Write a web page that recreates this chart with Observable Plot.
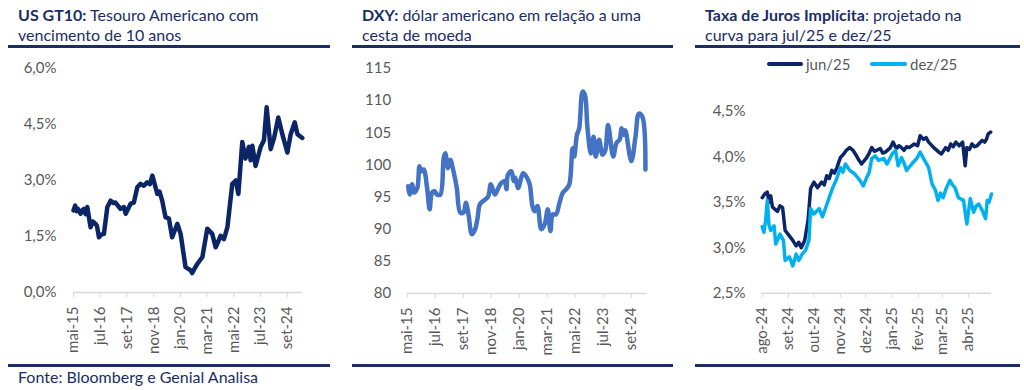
<!DOCTYPE html>
<html><head><meta charset="utf-8">
<script src="https://cdn.jsdelivr.net/npm/d3@7"></script>
<script src="https://cdn.jsdelivr.net/npm/@observablehq/plot@0.6"></script>
<style>
body{margin:0;width:1024px;height:390px;background:#fff;position:relative;overflow:hidden;font-family:Lato,"Open Sans",sans-serif;}
.title{position:absolute;color:#1b2d63;font-size:16px;line-height:20px;white-space:nowrap;}
.rule{position:absolute;height:3px;background:#1b2d63;}
.panel{position:absolute;top:50px;}
.leg{position:absolute;top:55px;font-size:15px;color:#595959;line-height:18px;}
.sw{position:absolute;top:62px;height:4px;border-radius:2px;}
.foot{position:absolute;left:18px;top:367px;font-size:16px;color:#1b2d63;}
</style></head><body>
<div class="title" style="left:18px;top:5px"><b>US GT10:</b> Tesouro Americano com<br>vencimento de 10 anos</div>
<div class="title" style="left:362px;top:5px"><b>DXY:</b> dólar americano em relação a uma<br>cesta de moeda</div>
<div class="title" style="left:705px;top:5px"><b>Taxa de Juros Implícita</b>: projetado na<br>curva para jul/25 e dez/25</div>
<div class="rule" style="left:8px;width:322px;top:45px"></div>
<div class="rule" style="left:352px;width:321px;top:45px"></div>
<div class="rule" style="left:695px;width:325px;top:45px"></div>
<div class="rule" style="left:8px;width:322px;top:364px"></div>
<div class="rule" style="left:352px;width:321px;top:364px"></div>
<div class="rule" style="left:695px;width:325px;top:364px"></div>
<div class="foot">Fonte: Bloomberg e Genial Analisa</div>
<div class="sw" style="left:767px;width:36px;background:#0b2566"></div>
<div class="leg" style="left:806px">jun/25</div>
<div class="sw" style="left:870px;width:37px;background:#00b0f0"></div>
<div class="leg" style="left:910px">dez/25</div>
<div id="p1" class="panel" style="left:0px"></div>
<div id="p2" class="panel" style="left:340px"></div>
<div id="p3" class="panel" style="left:680px"></div>
<script>
// ---- Data ----
const gt10Dates = ["2015-05-01","2015-05-28","2015-06-20","2015-07-07","2015-08-22","2015-09-15","2015-10-13","2015-11-10","2015-12-07","2016-01-28","2016-03-07","2016-04-16","2016-05-10","2016-06-10","2016-07-16","2016-08-28","2016-10-22","2016-12-13","2017-01-20","2017-03-01","2017-05-19","2017-07-13","2017-08-10","2017-10-28","2017-12-19","2018-02-12","2018-04-04","2018-05-28","2018-07-19","2018-09-01","2018-10-10","2018-12-28","2019-02-01","2019-03-16","2019-05-07","2019-07-01","2019-08-22","2019-11-12","2020-01-04","2020-03-22","2020-06-13","2020-07-07","2020-08-16","2020-09-28","2020-12-16","2021-03-04","2021-05-22","2021-07-16","2021-10-04","2021-11-25","2022-01-19","2022-04-07","2022-06-01","2022-07-13","2022-09-13","2022-11-04","2022-12-28","2023-01-25","2023-02-21","2023-04-13","2023-07-03","2023-08-25","2023-10-07","2023-12-10","2024-02-04","2024-04-10","2024-06-13","2024-09-01","2024-10-25","2024-12-28","2025-02-10","2025-04-28"];
const gt10Values = [2.20,2.33,2.18,2.25,2.11,2.20,2.24,2.10,2.29,1.75,1.90,1.84,1.78,1.48,1.55,1.57,2.29,2.46,2.40,2.41,2.24,2.29,2.11,2.38,2.41,2.82,2.91,2.86,2.95,2.90,3.13,2.64,2.70,2.46,2.02,1.98,1.48,1.84,1.57,0.68,0.59,0.52,0.65,0.77,0.95,1.71,1.57,1.21,1.52,1.43,1.75,2.91,3.00,2.64,4.03,3.59,3.90,3.54,3.93,3.39,3.90,4.08,4.96,3.84,4.15,4.69,4.24,3.75,4.24,4.56,4.24,4.14];

const dxyDates = ["2015-05-16","2015-06-06","2015-07-16","2015-08-10","2015-10-01","2015-11-04","2015-12-04","2016-01-07","2016-02-28","2016-04-07","2016-05-13","2016-06-22","2016-07-25","2016-09-16","2016-11-07","2016-12-01","2017-01-10","2017-02-15","2017-04-04","2017-05-25","2017-07-16","2017-09-04","2017-10-10","2017-11-19","2018-01-10","2018-02-28","2018-04-07","2018-05-13","2018-07-28","2018-09-16","2018-10-25","2018-12-25","2019-02-15","2019-04-04","2019-05-25","2019-06-19","2019-07-13","2019-09-04","2019-10-07","2019-11-01","2019-12-13","2020-02-28","2020-04-16","2020-06-07","2020-07-19","2020-08-22","2020-10-04","2020-12-01","2021-01-22","2021-03-10","2021-04-19","2021-05-25","2021-07-13","2021-09-04","2021-10-25","2021-12-13","2022-02-01","2022-03-22","2022-04-16","2022-05-28","2022-07-01","2022-08-22","2022-09-25","2022-11-04","2022-12-25","2023-02-04","2023-03-10","2023-05-01","2023-06-19","2023-08-01","2023-09-13","2023-12-01","2024-01-19","2024-03-10","2024-04-04","2024-05-10","2024-06-01","2024-09-01","2024-11-04","2024-12-25","2025-02-16","2025-04-04"];
const dxyValues = [96.7,95.4,97.0,95.7,96.4,99.8,99.0,99.3,96.4,93.1,95.7,95.9,95.4,95.4,101.1,101.8,99.5,100.8,99.0,96.4,92.6,92.6,94.1,92.3,89.2,90.0,91.8,93.9,94.6,95.1,97.0,95.4,96.4,97.2,97.5,96.2,98.5,99.0,97.5,98.0,96.4,98.7,98.2,97.0,93.6,92.8,93.6,90.0,90.8,93.1,89.7,92.3,92.3,94.1,95.7,96.2,97.0,102.6,101.3,104.7,105.7,111.4,110.9,105.7,101.8,104.4,101.3,103.9,101.6,102.2,106.2,101.3,103.4,104.0,105.7,104.7,105.4,100.6,104.4,108.0,107.5,99.3];

const jun25Dates = ["2024-08-01","2024-08-04","2024-08-07","2024-08-09","2024-08-11","2024-08-13","2024-08-15","2024-08-19","2024-08-22","2024-08-25","2024-08-28","2024-09-02","2024-09-06","2024-09-10","2024-09-13","2024-09-16","2024-09-20","2024-09-24","2024-09-27","2024-10-01","2024-10-05","2024-10-10","2024-10-13","2024-10-16","2024-10-19","2024-10-22","2024-10-25","2024-10-28","2024-11-01","2024-11-05","2024-11-08","2024-11-12","2024-11-16","2024-11-20","2024-11-23","2024-11-26","2024-12-02","2024-12-05","2024-12-08","2024-12-11","2024-12-14","2024-12-18","2024-12-21","2024-12-24","2024-12-30","2025-01-02","2025-01-06","2025-01-09","2025-01-12","2025-01-15","2025-01-18","2025-01-21","2025-01-27","2025-01-31","2025-02-03","2025-02-07","2025-02-10","2025-02-13","2025-02-19","2025-02-25","2025-02-28","2025-03-05","2025-03-08","2025-03-11","2025-03-14","2025-03-17","2025-03-21","2025-03-25","2025-03-28","2025-03-30","2025-04-02","2025-04-05","2025-04-08","2025-04-11","2025-04-14","2025-04-17","2025-04-20","2025-04-22","2025-04-24","2025-04-27"];
const jun25Values = [3.55,3.59,3.61,3.50,3.57,3.45,3.43,3.40,3.46,3.44,3.19,3.13,3.08,3.02,3.06,3.00,3.08,3.30,3.65,3.72,3.66,3.72,3.69,3.79,3.76,3.85,3.82,3.88,3.99,4.03,4.07,4.10,4.07,4.01,3.96,3.92,3.99,4.04,4.10,4.06,4.07,4.09,4.04,4.05,4.10,4.16,4.09,4.12,4.10,4.07,4.11,4.10,4.14,4.12,4.23,4.19,4.21,4.16,4.10,4.05,4.03,4.10,4.07,4.14,4.11,4.16,4.12,4.16,3.90,4.10,4.08,4.14,4.11,4.12,4.15,4.18,4.16,4.19,4.25,4.27];

const dez25Dates = ["2024-08-01","2024-08-03","2024-08-05","2024-08-07","2024-08-09","2024-08-11","2024-08-15","2024-08-17","2024-08-22","2024-08-26","2024-08-28","2024-09-02","2024-09-06","2024-09-10","2024-09-13","2024-09-17","2024-09-21","2024-09-25","2024-09-27","2024-10-01","2024-10-04","2024-10-07","2024-10-11","2024-10-14","2024-10-17","2024-10-20","2024-10-23","2024-10-27","2024-11-01","2024-11-04","2024-11-07","2024-11-12","2024-11-18","2024-11-24","2024-11-28","2024-12-02","2024-12-05","2024-12-08","2024-12-12","2024-12-16","2024-12-22","2024-12-26","2025-01-01","2025-01-05","2025-01-08","2025-01-12","2025-01-15","2025-01-18","2025-01-24","2025-01-30","2025-02-03","2025-02-07","2025-02-13","2025-02-17","2025-02-21","2025-02-24","2025-02-27","2025-03-02","2025-03-06","2025-03-10","2025-03-13","2025-03-16","2025-03-20","2025-03-26","2025-03-30","2025-04-03","2025-04-07","2025-04-10","2025-04-13","2025-04-17","2025-04-21","2025-04-23","2025-04-25","2025-04-28"];
const dez25Values = [3.23,3.17,3.30,3.52,3.25,3.19,3.24,3.04,3.15,3.08,2.86,2.90,2.80,2.93,2.86,2.93,2.97,3.08,3.43,3.37,3.40,3.43,3.34,3.42,3.50,3.58,3.66,3.74,3.88,3.83,3.92,3.85,3.81,3.74,3.68,3.77,3.83,3.98,4.01,3.96,3.98,3.92,4.03,4.07,3.90,3.99,3.93,3.85,3.92,3.98,4.05,3.98,3.88,3.70,3.63,3.52,3.60,3.55,3.66,3.74,3.69,3.66,3.55,3.52,3.26,3.54,3.39,3.46,3.48,3.41,3.32,3.52,3.50,3.59];

const gt10Ticks = ["2015-05-01","2016-07-01","2017-09-01","2018-11-01","2020-01-01","2021-03-01","2022-05-01","2023-07-01","2024-09-01"];
const rateTicks = ["2024-08-01","2024-09-01","2024-10-01","2024-11-01","2024-12-01","2025-01-01","2025-02-01","2025-03-01","2025-04-01"];
const gt10YTicks = [0, 1.5, 3, 4.5, 6];
const dxyYTicks = [80, 85, 90, 95, 100, 105, 110, 115];
const rateYTicks = [2.5, 3, 3.5, 4, 4.5];
const ptMonths = ["jan","fev","mar","abr","mai","jun","jul","ago","set","out","nov","dez"];

// ---- Helpers ----
const D = s => new Date(s + "T00:00:00Z");
const fmtMonth = d => ptMonths[d.getUTCMonth()] + "-" + String(d.getUTCFullYear()).slice(2);
const pct1 = v => v.toFixed(1).replace(".", ",") + "%";
const zip = (ds, vs, s) => ds.map((d, i) => ({date: D(d), value: vs[i], series: s}));

const gt10 = zip(gt10Dates, gt10Values, "gt10");
const dxy = zip(dxyDates, dxyValues, "dxy");
const rates = zip(jun25Dates, jun25Values, "jun/25").concat(zip(dez25Dates, dez25Values, "dez/25"));

const style = {fontFamily: "Lato, 'Open Sans', sans-serif", fontSize: "15px", color: "#595959", background: "transparent", overflow: "visible"};

function axes(xTicks, yTicks, yFmt, yMin, pad) {
  return [
    Plot.ruleY([yMin], {stroke: "#d9d9d9", strokeWidth: 1.5}),
    Plot.axisX({ticks: xTicks.map(D), tickFormat: fmtMonth, tickRotate: -90, tickSize: 5, tickPadding: 9, stroke: "#d9d9d9", label: null}),
    Plot.axisY({ticks: yTicks, tickFormat: yFmt, tickSize: 0, tickPadding: pad, label: null})
  ];
}

document.getElementById("p1").append(Plot.plot({
  width: 330, height: 310, marginLeft: 73, marginRight: 28, marginTop: 18, marginBottom: 68,
  style,
  x: {type: "utc", domain: [D("2015-05-01"), D("2025-05-01")]},
  y: {domain: [0, 6]},
  marks: [
    ...axes(gt10Ticks, gt10YTicks, pct1, 0, 17),
    Plot.line(gt10, {x: "date", y: "value", stroke: "#0b2566", strokeWidth: 4.5, strokeLinejoin: "round", strokeLinecap: "round"})
  ]
}));

document.getElementById("p2").append(Plot.plot({
  width: 330, height: 310, marginLeft: 66.7, marginRight: 23.3, marginTop: 18, marginBottom: 67,
  style,
  x: {type: "utc", domain: [D("2015-05-01"), D("2025-05-01")]},
  y: {domain: [80, 115]},
  marks: [
    ...axes(gt10Ticks, dxyYTicks, d => String(d), 80, 16),
    Plot.line(dxy, {x: "date", y: "value", stroke: "#4472c4", strokeWidth: 4.5, curve: "catmull-rom", strokeLinejoin: "round", strokeLinecap: "round"})
  ]
}));

document.getElementById("p3").append(Plot.plot({
  width: 344, height: 310, marginLeft: 81.7, marginRight: 33, marginTop: 60.7, marginBottom: 67.3,
  style,
  x: {type: "utc", domain: [D("2024-08-01"), D("2025-04-28")]},
  y: {domain: [2.5, 4.5]},
  color: {domain: ["jun/25", "dez/25"], range: ["#0b2566", "#00b0f0"]},
  marks: [
    ...axes(rateTicks, rateYTicks, pct1, 2.5, 16.7),
    Plot.line(rates, {x: "date", y: "value", z: "series", stroke: "series", strokeWidth: 3.5, strokeLinejoin: "round", strokeLinecap: "round"})
  ]
}));
</script>
</body></html>
